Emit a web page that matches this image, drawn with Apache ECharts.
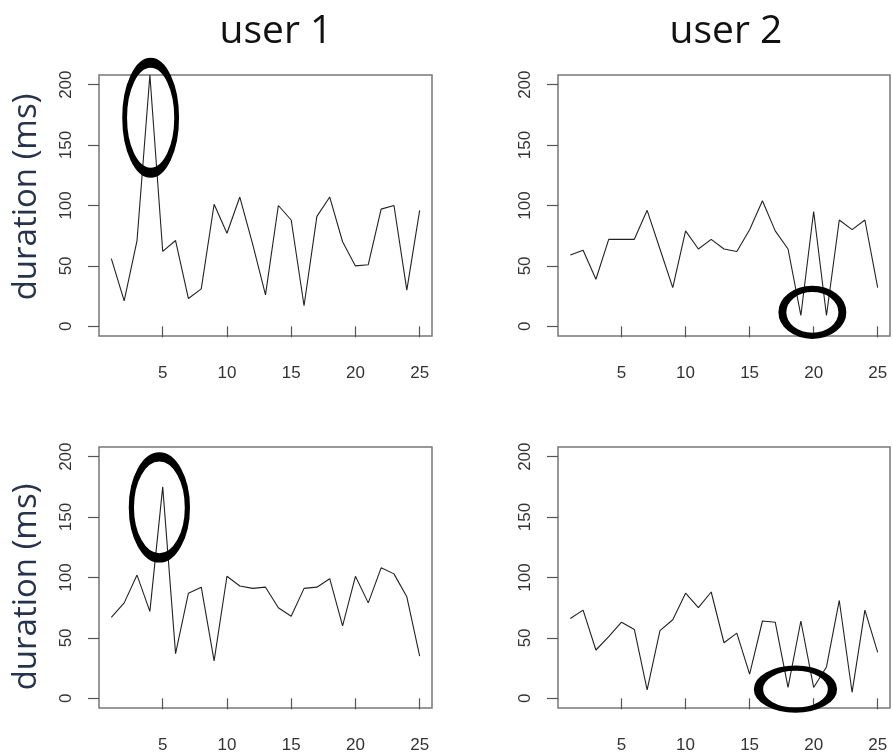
<!DOCTYPE html>
<html>
<head>
<meta charset="utf-8">
<script src="https://cdn.jsdelivr.net/npm/echarts@6/dist/echarts.min.js"></script>
<style>
html,body{margin:0;padding:0;background:#fff;}
#chart{width:893px;height:756px;}
</style>
</head>
<body>
<div id="chart"></div>
<script>
// ---- data ----
const trials = [1,2,3,4,5,6,7,8,9,10,11,12,13,14,15,16,17,18,19,20,21,22,23,24,25];
const user1Top    = [56,21,71,208,62,71,23,31,101,77,107,68,26,100,88,17,91,107,70,50,51,97,100,30,96];
const user2Top    = [59,63,39,72,72,72,96,64,32,79,64,72,64,62,80,104,79,64,9,95,9,88,80,88,32];
const user1Bottom = [67,79,102,72,175,37,87,92,31,101,93,91,92,75,68,91,92,99,60,101,79,108,103,84,35];
const user2Bottom = [66,73,40,51,63,57,7,56,65,87,75,88,46,54,20,64,63,9,64,9,26,81,5,73,38];
const xTicks = [5,10,15,20,25];
const yTicks = [0,50,100,150,200];
const panelTitles = ['user 1','user 2'];
const yName = 'duration (ms)';
// highlighted regions (data coords: center x, center y)
const highlights = [[4.06,172.6],[19.9,11.6],[4.74,158],[18.58,7.6]];
const highlightSizes = [[52,110],[60,47],[56,101],[74,42]];

const seriesData = [user1Top, user2Top, user1Bottom, user2Bottom];
const grids = [
  {left:99, top:75, width:333, height:261},
  {left:558, top:75, width:332, height:261},
  {left:99, top:447, width:333, height:261},
  {left:558, top:447, width:332, height:261}
];
const labelFont = {fontFamily:'Liberation Sans', fontSize:17, color:'#333'};
const ellipsePath = 'path://M0,-1A1,1,0,1,1,0,1A1,1,0,1,1,0,-1Z';

const option = {
  backgroundColor:'#fff',
  animation:false,
  title: [
    {text:panelTitles[0], left:271, top:7, textAlign:'center',
     textStyle:{fontFamily:'Open Sans', fontSize:39, fontWeight:'normal', color:'#111'}},
    {text:panelTitles[1], left:721, top:7, textAlign:'center',
     textStyle:{fontFamily:'Open Sans', fontSize:39, fontWeight:'normal', color:'#111'}}
  ],
  grid: grids.map(g => Object.assign({show:true, borderColor:'#777', borderWidth:1.5, backgroundColor:'#fff'}, g)),
  xAxis: grids.map((g,i) => ({
    type:'value', gridIndex:i, min:0.04, max:25.96,
    axisLine:{show:false},
    splitLine:{show:false},
    axisTick:{show:true, length:11, customValues:xTicks, lineStyle:{color:'#555', width:1.2}},
    axisLabel:Object.assign({show:true, customValues:xTicks, margin:29}, labelFont)
  })),
  yAxis: grids.map((g,i) => ({
    type:'value', gridIndex:i, min:-8, max:208,
    axisLine:{show:false},
    splitLine:{show:false},
    axisTick:{show:true, length:11, customValues:yTicks, lineStyle:{color:'#555', width:1.2}},
    axisLabel:Object.assign({show:true, customValues:yTicks, rotate:90, margin:24}, labelFont)
  })),
  graphic: [
    {type:'text', x:27, y:197, rotation:Math.PI/2,
     style:{text:yName, font:'33px "Open Sans"', fill:'#27334d', align:'center', verticalAlign:'middle'}},
    {type:'text', x:27, y:587, rotation:Math.PI/2,
     style:{text:yName, font:'33px "Open Sans"', fill:'#27334d', align:'center', verticalAlign:'middle'}}
  ],
  series: seriesData.map((vals,i) => ({
    type:'line', xAxisIndex:i, yAxisIndex:i,
    data: trials.map((t,k) => [t, vals[k]]),
    showSymbol:false, symbol:'none',
    lineStyle:{color:'#222', width:1.1},
    markPoint:{
      silent:true,
      symbol:ellipsePath,
      symbolSize:highlightSizes[i],
      itemStyle:{color:'rgba(0,0,0,0)', borderColor:'#000', borderWidth:7},
      label:{show:false},
      data:[{coord:highlights[i]}]
    }
  }))
};

const chart = echarts.init(document.getElementById('chart'), null, {renderer:'canvas'});
chart.setOption(option);
</script>
</body>
</html>
